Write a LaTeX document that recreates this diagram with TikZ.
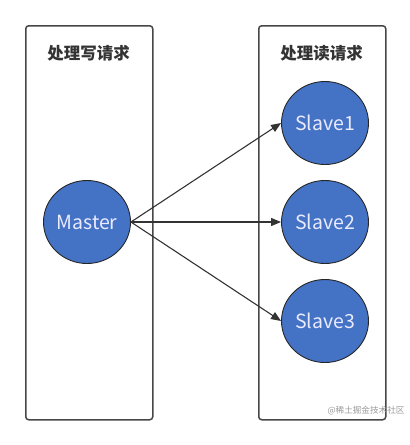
\documentclass[tikz,border=0pt]{standalone}
\usepackage{fontspec}
\setmainfont{Noto Sans CJK SC}
\newfontfamily\cjk{Noto Sans CJK SC}
\usetikzlibrary{arrows.meta,shapes.geometric}
\definecolor{nodeblue}{HTML}{4472C4}
\definecolor{edge}{HTML}{333333}
\tikzset{
  panel/.style={draw=edge!90, line width=1.5pt, rounded corners=3pt},
  title/.style={font=\cjk\bfseries\fontsize{16.5}{18}\selectfont, text=edge},
  server/.style={ellipse, draw=black!85, line width=0.9pt, fill=nodeblue, text=white!92!blue,
    minimum width=87pt, minimum height=83pt, inner sep=0pt, font=\cjk\fontsize{19.5}{21}\selectfont},
  link/.style={draw=edge, line width=1.1pt, -{Triangle[length=10pt,width=8pt]}}
}
\begin{document}
\begin{tikzpicture}[x=1pt,y=-1pt]
\useasboundingbox (0,0) rectangle (410,445);
\node[panel, minimum width=127pt, minimum height=394pt, anchor=north west] (left) at (25,25) {};
\node[panel, minimum width=127pt, minimum height=394pt, anchor=north west] (right) at (258,25) {};
\node[title] (t1) at (88.5,53) {处理写请求};
\node[title] (t2) at (321.5,53) {处理读请求};
\node[server] (m) at (87,222) {Master};
\node[server] (s1) at (325,123) {Slave1};
\node[server] (s2) at (325,222) {Slave2};
\node[server] (s3) at (325,321) {Slave3};
\draw[link] (m.east) -- (s1.west);
\draw[link] (m.east) -- (s2.west);
\draw[link] (m.east) -- (s3.west);
\node[font=\cjk\fontsize{8.6}{10}\selectfont, text=black!40, anchor=east] (wm) at (408,411) {@稀土掘金技术社区};
\end{tikzpicture}
\end{document}
